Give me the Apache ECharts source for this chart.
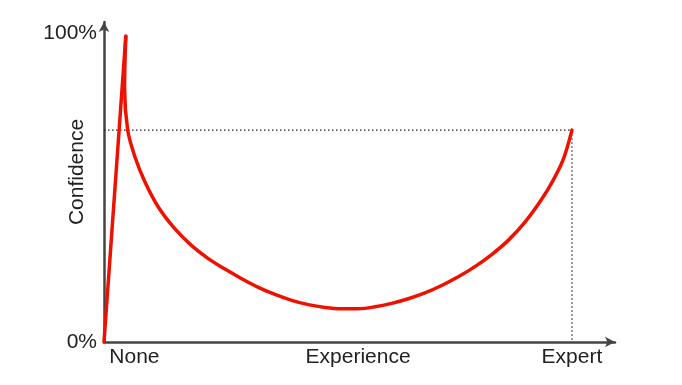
<!DOCTYPE html>
<html>
<head>
<meta charset="utf-8">
<script src="https://cdn.jsdelivr.net/npm/echarts@6/dist/echarts.min.js"></script>
<style>html,body{margin:0;padding:0;background:#fff}#c{width:682px;height:385px}</style>
</head>
<body>
<div id="c"></div>
<script>
// Rising segment (ignorance peak)
const riseX = [0, 4.66];
const riseY = [0, 99];
// Falling then recovering curve
const fallX = [4.66, 4.40, 5.06, 6.62, 8.76, 11.60, 15.17, 18.74, 22.29, 25.85, 29.42, 32.97, 36.54, 40.11, 43.65, 47.22, 50.79, 54.34, 57.91, 61.47, 65.02, 68.59, 72.16, 75.71, 79.27, 82.84, 86.39, 89.96, 93.53, 96.0, 98.14, 100];
const fallY = [99, 82.2, 68.6, 59.9, 51.8, 43.7, 36.6, 31.2, 27.0, 23.6, 20.5, 17.7, 15.4, 13.5, 12.1, 11.2, 10.8, 10.8, 11.4, 12.5, 14.0, 15.9, 18.3, 21.1, 24.4, 28.3, 32.9, 38.8, 46.2, 52.4, 59.1, 68.6];
// Reference (dotted) level at expert
const expertX = 100;
const expertY = 68.6;
// Axis labels
const xLabelValues = [6.5, 54.3, 100];
const xLabels = ['None', 'Experience', 'Expert'];
const yLabelValues = [0, 100];
const yLabels = ['0%', '100%'];

const zip = (a, b) => a.map((v, i) => [v, b[i]]);
const font = 'Liberation Sans, Helvetica, Arial, sans-serif';

const chart = echarts.init(document.getElementById('c'), null, {renderer: 'canvas'});
chart.setOption({
  animation: false,
  grid: {left: 104, right: 67, top: 22, bottom: 43},
  xAxis: {
    type: 'value', min: 0, max: 109.2,
    axisLine: {show: true, lineStyle: {color: '#444', width: 2.5}, symbol: ['none', 'arrow'], symbolSize: [8, 10]},
    axisTick: {show: false},
    splitLine: {show: false},
    axisLabel: {
      customValues: xLabelValues,
      formatter: v => { const i = xLabelValues.indexOf(v); return i >= 0 ? xLabels[i] : ''; },
      color: '#222', fontSize: 21, fontFamily: font, margin: 5
    }
  },
  yAxis: {
    type: 'value', min: 0, max: 103.6,
    name: 'Confidence', nameLocation: 'middle', nameGap: 16, nameMoveOverlap: false,
    nameTextStyle: {color: '#222', fontSize: 21, fontFamily: font, padding: [0, 0, 0, 20]},
    axisLine: {show: true, lineStyle: {color: '#444', width: 2.5}, symbol: ['none', 'arrow'], symbolSize: [8, 10]},
    axisTick: {show: false},
    splitLine: {show: false},
    axisLabel: {
      customValues: yLabelValues,
      formatter: v => { const i = yLabelValues.indexOf(v); return i >= 0 ? yLabels[i] : ''; },
      color: '#222', fontSize: 21, fontFamily: font, margin: 7
    }
  },
  series: [
    {
      type: 'line', data: [[0, expertY], [expertX, expertY], [expertX, 0]],
      showSymbol: false, symbol: 'none', z: 1,
      lineStyle: {color: '#222', width: 1.2, type: [1.5, 2.5]}
    },
    {
      type: 'line', data: zip(riseX, riseY), symbol: 'none', z: 3,
      lineStyle: {color: '#ee1100', width: 3.5, cap: 'round'}
    },
    {
      type: 'line', data: zip(fallX, fallY), symbol: 'none', smooth: 0.35, z: 3,
      lineStyle: {color: '#ee1100', width: 3.5, cap: 'round', join: 'round'}
    }
  ]
});
</script>
</body>
</html>
